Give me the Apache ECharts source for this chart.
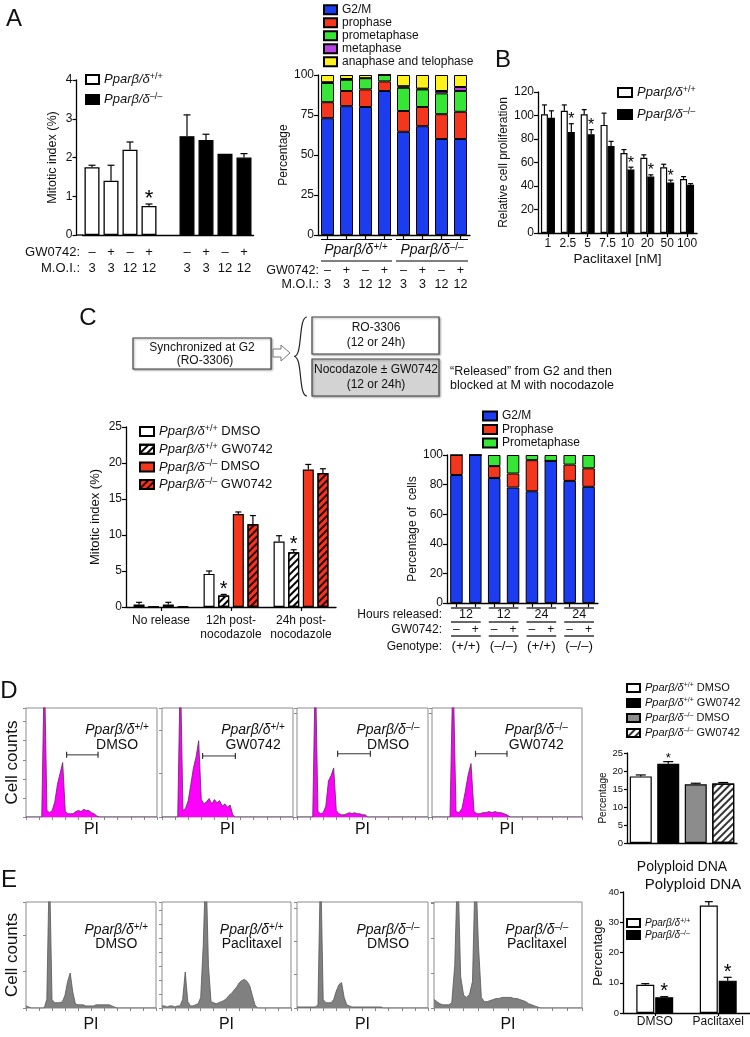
<!DOCTYPE html>
<html>
<head>
<meta charset="utf-8">
<script src="https://cdn.jsdelivr.net/npm/echarts@6/dist/echarts.min.js"></script>
<style>
html,body{margin:0;padding:0;background:#fff;}
#chart{width:750px;height:1037px;}
</style>
</head>
<body>
<div id="chart"></div>
<script>
// ================= DATA =================
// Panel A (left): mitotic index (%)
const aGW    = ['–','+','–','+','','–','+','–','+'];
const aMOI   = ['3','3','12','12','','3','3','12','12'];
const aWT    = [1.75, 1.4, 2.2, 0.75, '-', '-', '-', '-', '-'];
const aWTerr = [0.05, 0.4, 0.2, 0.05, 0, 0, 0, 0, 0];
const aWTsig = [0, 0, 0, 1, 0, 0, 0, 0, 0];
const aKO    = ['-', '-', '-', '-', '-', 2.55, 2.45, 2.1, 2.0];
const aKOerr = [0, 0, 0, 0, 0, 0.55, 0.15, 0, 0.1];

// Panel A (right): distribution of mitotic phases (%)
const arGW   = ['–','+','–','+','–','+','–','+'];
const arMOI  = ['3','3','12','12','3','3','12','12'];
const arGroups = ['+/+', '–/–'];
const phaseNames = ['G2/M','prophase','prometaphase','metaphase','anaphase and telophase'];
const arG2M     = [73, 80.5, 80, 90, 64.5, 68, 60, 60];
const arPro     = [10, 9.5, 11, 6, 13, 12, 15.5, 17];
const arPrometa = [12, 7, 7, 4, 14.5, 11, 13, 13];
const arMeta    = [0.5, 0.5, 0, 0, 1, 0.5, 1.5, 2.5];
const arAna     = [4.5, 2.5, 2, 0, 7, 8.5, 10, 7.5];

// Panel B: relative cell proliferation vs paclitaxel
const bDose   = ['1','2.5','5','7.5','10','20','50','100'];
const bWT     = [101, 104, 101, 92, 68, 64, 56, 46];
const bWTerr  = [8, 5, 4, 10, 3, 2.5, 2.5, 2];
const bKO     = [98, 86, 84, 74, 54, 48, 43, 41];
const bKOerr  = [6, 7, 4, 4, 2, 1.5, 2, 1];
const bKOsig  = [0, 1, 1, 0, 1, 1, 1, 0];

// Panel C (left): mitotic index (%)
const cCats    = ['No release', '12h post-\nnocodazole', '24h post-\nnocodazole'];
const cWtD     = [0.35, 4.6, 9.1];   const cWtDerr = [0.3, 0.4, 0.8];
const cWtG     = [0.05, 1.6, 7.6];   const cWtGerr = [0, 0.15, 0.35]; const cWtGsig = [0, 1, 1];
const cKoD     = [0.35, 12.9, 19.1]; const cKoDerr = [0.3, 0.3, 0.7];
const cKoG     = [0.05, 11.5, 18.6]; const cKoGerr = [0, 1.2, 0.6];

// Panel C (right): percentage of cells
const crGW     = ['–','+','–','+','–','+','–','+'];
const crHours  = ['12','12','24','24'];
const crGeno   = ['(+/+)','(–/–)','(+/+)','(–/–)'];
const crPhases = ['G2/M','Prophase','Prometaphase'];
const crG2M     = [86.5, 100, 84.5, 78, 75.5, 96, 82.5, 78.5];
const crPro     = [13.5, 0, 8, 9.5, 21, 0, 11, 12.5];
const crPrometa = [0, 0, 7.5, 12.5, 3.5, 4, 6.5, 9];

// Panel D: PI histograms (cell counts, % of panel height, bins every 2 PI units)
const histStep = 2;
const dHist1 = [0,0,0,0,0,0,0,140,6,4,6,14,30,40,50,5,3,3,3,5,6,5,7,6,6,4,3,1,0,0,0,0,0,0,0,0,0,0,0,0,0,0,0,0,0,0,0,0,0,0,0];
const dHist2 = [0,0,0,0,0,0,0,140,6,8,15,30,45,55,70,16,12,14,17,12,16,13,15,10,12,9,11,2,0,0,0,0,0,0,0,0,0,0,0,0,0,0,0,0,0,0,0,0,0,0,0];
const dHist3 = [0,0,0,0,0,0,0,140,5,3,4,10,33,38,45,6,3,2,2,3,4,3,4,3,3,2,2,0,0,0,0,0,0,0,0,0,0,0,0,0,0,0,0,0,0,0,0,0,0,0,0];
const dHist4 = [0,0,0,0,0,0,0,140,5,4,8,22,38,49,5,3,3,4,4,5,4,5,4,4,3,2,0,0,0,0,0,0,0,0,0,0,0,0,0,0,0,0,0,0,0,0,0,0,0,0,0];
const dGateX1 = [31, 31, 31, 29];
const dGateX2 = [55, 56, 56, 50];
const dGateY  = [57, 56, 58, 58];
const dLabels = [['+/+','DMSO'], ['+/+','GW0742'], ['–/–','DMSO'], ['–/–','GW0742']];

// Panel D (right): polyploid DNA (%)
const dBarNames = ['+/+ DMSO', '+/+ GW0742', '–/– DMSO', '–/– GW0742'];
const dVals = [18.5, 22, 16.3, 16.5];
const dErr  = [0.4, 0.6, 0.3, 0.3];
const dSig  = [0, 1, 0, 0];

// Panel E: PI histograms
const eHist1 = [2,1,0,0,0,0,0,0,8,140,8,5,5,5,6,12,25,33,15,4,3,3,3,2,2,2,2,3,3,3,3,3,3,2,1,0,0,0,0,0,0,0,0,0,0,0,0,0,0,0,0];
const eHist2 = [2,2,1,2,2,1,2,2,8,34,6,2,2,3,4,10,60,140,40,6,5,4,5,6,7,9,12,14,17,20,24,26,27,25,21,12,3,0,0,0,0,0,0,0,0,0,0,0,0,0,0];
const eHist3 = [1,1,1,1,1,1,1,1,3,140,8,5,5,5,8,16,22,24,10,3,2,1,1,1,1,1,1,1,1,1,1,1,1,0,0,0,0,0,0,0,0,0,0,0,0,0,0,0,0,0,0];
const eHist4 = [8,6,4,3,3,3,5,40,140,30,12,10,13,25,140,60,10,6,6,7,8,9,9,10,10,10,10,9,9,8,7,6,4,3,2,1,0,0,0,0,0,0,0,0,0,0,0,0,0,0,0];
const eLabels = [['+/+','DMSO'], ['+/+','Paclitaxel'], ['–/–','DMSO'], ['–/–','Paclitaxel']];

// Panel E (right): polyploid DNA (%)
const eCats   = ['DMSO', 'Paclitaxel'];
const eWT     = [9.3, 35.5];  const eWTerr = [0.4, 1.3];
const eKO     = [5.2, 10.7];  const eKOerr = [0.2, 1.1]; const eKOsig = [1, 1];

// ================= STYLE / LAYOUT =================
const FF = '"Liberation Sans", Arial, Helvetica, sans-serif';
const K = '#111';
const C_BLUE = '#1c3cf0', C_RED = '#f4361c', C_GREEN = '#35e635', C_PURPLE = '#b845e0', C_YELLOW = '#fff21c';
const phaseColors = [C_BLUE, C_RED, C_GREEN, C_PURPLE, C_YELLOW];
const hatch = (col) => ({symbol:'rect', symbolSize:1, dashArrayX:[1,0], dashArrayY:[1.3,2.4], rotation:-Math.PI/4, color:col});

const L = {
  aL:{left:82.5, top:80, width:171, height:155},
  aR:{left:318, top:75, width:152, height:160},
  b:{left:538, top:92, width:159, height:141},
  cL:{left:126, top:427, width:210, height:180},
  cR:{left:447, top:455, width:151, height:148},
  dH:[{left:26,top:708,width:131,height:109},{left:162,top:708,width:131,height:109},{left:297,top:708,width:131,height:109},{left:432,top:708,width:150,height:109}],
  dB:{left:627, top:753, width:110, height:90},
  eH:[{left:26,top:902,width:130,height:106},{left:162,top:902,width:129,height:106},{left:297,top:902,width:131,height:106},{left:434,top:902,width:148,height:106}],
  eB:{left:623, top:892, width:140, height:121}
};
const dTick = [17.5, 40, 95, 95];
const eTick = [34.5, 13.2, 31.5, 33];

function richSet(fs, lh){
  lh = lh || fs + 2;
  const s = Math.round(fs*0.68);
  return {
    i:{fontStyle:'italic', fontSize:fs, fontFamily:FF, color:K, lineHeight:lh},
    s:{fontSize:s, fontFamily:FF, color:K, lineHeight:s, verticalAlign:'top'},
    n:{fontSize:fs, fontFamily:FF, color:K, lineHeight:lh}
  };
}
function ppar(g, tail){ return '{i|Pparβ/δ}{s|' + g + '}' + (tail ? '{n| ' + tail + '}' : ''); }

const grids = [L.aL, L.aR, L.b, L.cL, L.cR, ...L.dH, L.dB, ...L.eH, L.eB].map((g, i) => {
  const hist = (i >= 5 && i <= 8) || (i >= 10 && i <= 13);
  return Object.assign({containLabel:false}, g, hist ? {show:true, borderColor:'#8c8c8c', borderWidth:1, backgroundColor:'rgba(255,255,255,0)'} : {show:false});
});

const axLine = {show:true, lineStyle:{color:'#000', width:1.3}};
const noLine = {show:false};
function tick(len, align){ return {show:true, inside:false, length:len, alignWithLabel:!!align, lineStyle:{color:'#000', width:1.2}}; }
function lab(fs, extra){ return Object.assign({fontSize:fs, fontFamily:FF, color:K, interval:0}, extra||{}); }

function yVal(gi, min, max, interval, name, nameGap, fs, nfs, extra){
  return Object.assign({type:'value', gridIndex:gi, position:'left', min, max, interval, axisLine:axLine, axisTick:tick(4), splitLine:{show:false},
    axisLabel:{fontSize:fs, fontFamily:FF, color:K, margin:4}, name, nameLocation:'middle', nameGap,
    nameTextStyle:{fontSize:nfs, fontFamily:FF, color:K}}, extra||{});
}
function yHist(gi, interval, name){
  return {type:'value', gridIndex:gi, position:'left', min:0, max:100, interval, axisLine:noLine,
    axisTick:{show:true, inside:false, length:3, lineStyle:{color:'#888'}}, axisLabel:{show:false}, splitLine:{show:false},
    name:name||'', nameLocation:'middle', nameGap:5, nameTextStyle:{fontSize:17, fontFamily:FF, color:K}};
}
function xHist(gi, gap){
  return {type:'value', gridIndex:gi, position:'bottom', min:0, max:100, interval:10, axisLine:noLine,
    axisTick:{show:true, inside:false, length:3, lineStyle:{color:'#888'}}, axisLabel:{show:false}, splitLine:{show:false},
    name:'PI', nameLocation:'middle', nameGap:gap, nameTextStyle:{fontSize:16, fontFamily:FF, color:K}};
}

const xAxes = [
  // 0 A left
  {type:'category', gridIndex:0, position:'bottom', data:aGW.map((_, i) => 'a' + i), axisLine:axLine, axisTick:{show:false},
   axisLabel:lab(13, {lineHeight:16, margin:9, formatter:(v, i) => aGW[i] + '\n' + aMOI[i]})},
  // 1 A right main
  {type:'category', gridIndex:1, position:'bottom', data:arGW.map((_, i) => 'r' + i), axisLine:axLine, axisTick:tick(4, true),
   axisLabel:lab(12.5, {lineHeight:14, margin:29, formatter:(v, i) => arGW[i] + '\n' + arMOI[i]})},
  // 2 A right genotype groups
  {type:'category', gridIndex:1, position:'bottom', offset:0, data:arGroups, axisLine:noLine, axisTick:{show:false},
   axisLabel:lab(14, {margin:7, formatter:(v) => ppar(v), rich:richSet(14)})},
  // 3 B
  {type:'category', gridIndex:2, position:'bottom', data:bDose, axisLine:axLine, axisTick:tick(4, true),
   axisLabel:lab(12, {margin:4, lineHeight:14}), name:'Paclitaxel [nM]', nameLocation:'middle', nameGap:13,
   nameTextStyle:{fontSize:13.5, fontFamily:FF, color:K}},
  // 4 C left
  {type:'category', gridIndex:3, position:'bottom', data:cCats, axisLine:axLine, axisTick:tick(4, true),
   axisLabel:lab(12, {lineHeight:14, margin:7})},
  // 5 C right main
  {type:'category', gridIndex:4, position:'bottom', data:crGW.map((_, i) => 'c' + i), axisLine:axLine, axisTick:tick(4, true),
   axisLabel:lab(12, {lineHeight:14, margin:20, formatter:(v, i) => crGW[i]})},
  // 6 C right hours
  {type:'category', gridIndex:4, position:'bottom', offset:0, data:crHours, axisLine:noLine, axisTick:{show:false},
   axisLabel:lab(12.5, {lineHeight:14, margin:5})},
  // 7 C right genotype
  {type:'category', gridIndex:4, position:'bottom', offset:0, data:crGeno, axisLine:noLine, axisTick:{show:false},
   axisLabel:lab(13.5, {lineHeight:14, margin:36})},
  // 8-11 D hist
  xHist(5, 5), xHist(6, 5), xHist(7, 5), xHist(8, 5),
  // 12 D bar
  {type:'category', gridIndex:9, position:'bottom', data:['Polyploid DNA'], axisLine:axLine, axisTick:{show:false},
   axisLabel:lab(14, {lineHeight:16, margin:16})},
  // 13-16 E hist
  xHist(10, 9), xHist(11, 9), xHist(12, 9), xHist(13, 9),
  // 17 E bar
  {type:'category', gridIndex:14, position:'bottom', data:eCats, axisLine:axLine, axisTick:tick(3, true),
   axisLabel:lab(12, {lineHeight:14, margin:2})}
];

const yAxes = [
  yVal(0, 0, 4, 1, 'Mitotic index (%)', 17, 12, 12.5, {offset:6}),
  yVal(1, 0, 100, 25, 'Percentage', 26, 12, 12),
  yVal(2, 0, 120, 20, 'Relative cell proliferation', 26, 12, 12),
  yVal(3, 0, 25, 5, 'Mitotic index (%)', 24, 12, 13),
  yVal(4, 0, 100, 20, 'Percentage of  cells', 24, 12, 12),
  yHist(5, dTick[0], 'Cell counts'), yHist(6, dTick[1]), yHist(7, dTick[2]), yHist(8, dTick[3]),
  yVal(9, 0, 25, 5, 'Percentage', 15, 9.5, 10, {axisTick:tick(3)}),
  yHist(10, eTick[0], 'Cell counts'), yHist(11, eTick[1]), yHist(12, eTick[2]), yHist(13, eTick[3]),
  yVal(14, 0, 40, 10, 'Percentage', 13, 9.5, 13, {axisTick:tick(3)})
];

// error bars + significance stars, drawn through the axes
function errBars(xi, yi, vals, errs, sigs, nSer, idx, bw, gap, cap, starFs){
  const data = [];
  vals.forEach((v, i) => { if (v !== '-' && v != null) data.push([i, v, errs[i] || 0, sigs ? sigs[i] : 0]); });
  const off = (idx - (nSer - 1) / 2) * (bw + gap);
  return {
    type:'custom', xAxisIndex:xi, yAxisIndex:yi, z:5, silent:true, clip:false,
    encode:{x:0, y:1}, data,
    renderItem(params, api){
      const c = api.value(0), v = api.value(1), e = api.value(2), s = api.value(3);
      const p0 = api.coord([c, v]), p1 = api.coord([c, v + e]);
      const x = p0[0] + off;
      const kids = [];
      if (e > 0) {
        kids.push({type:'line', shape:{x1:x, y1:p0[1], x2:x, y2:p1[1]}, style:{stroke:'#000', lineWidth:1.2}});
        kids.push({type:'line', shape:{x1:x - cap, y1:p1[1], x2:x + cap, y2:p1[1]}, style:{stroke:'#000', lineWidth:1.2}});
      }
      if (s) kids.push({type:'text', x:x, y:p1[1] + starFs * 0.25,
        style:{text:'*', fill:'#000', font:starFs + 'px ' + FF, align:'center', verticalAlign:'bottom'}});
      return {type:'group', children:kids};
    }
  };
}

const bord = (w) => ({borderColor:'#000', borderWidth:w});
const series = [];
// A left
series.push({name:'A:wt', type:'bar', xAxisIndex:0, yAxisIndex:0, data:aWT, barWidth:15, barGap:'-100%', itemStyle:Object.assign({color:'#fff'}, bord(1.3))});
series.push({name:'A:ko', type:'bar', xAxisIndex:0, yAxisIndex:0, data:aKO, barWidth:15, barGap:'-100%', itemStyle:Object.assign({color:'#000'}, bord(1.3))});
series.push(errBars(0, 0, aWT, aWTerr, aWTsig, 1, 0, 15, 0, 3.5, 22));
series.push(errBars(0, 0, aKO, aKOerr, null, 1, 0, 15, 0, 3.5, 22));
// A right stacked
[arG2M, arPro, arPrometa, arMeta, arAna].forEach((d, k) => series.push({name:'AR:' + phaseNames[k], type:'bar', stack:'ar',
  xAxisIndex:1, yAxisIndex:1, data:d, barWidth:13, itemStyle:Object.assign({color:phaseColors[k]}, bord(1))}));
// B
series.push({name:'B:wt', type:'bar', xAxisIndex:3, yAxisIndex:2, data:bWT, barWidth:7, barGap:'0%', itemStyle:Object.assign({color:'#fff'}, bord(1.2))});
series.push({name:'B:ko', type:'bar', xAxisIndex:3, yAxisIndex:2, data:bKO, barWidth:7, barGap:'0%', itemStyle:Object.assign({color:'#000'}, bord(1.2))});
series.push(errBars(3, 2, bWT, bWTerr, null, 2, 0, 7, 0, 2.5, 16));
series.push(errBars(3, 2, bKO, bKOerr, bKOsig, 2, 1, 7, 0, 2.5, 16));
// C left
const cSer = [
  {n:'C:wtD', d:cWtD, e:cWtDerr, s:null, st:{color:'#fff'}},
  {n:'C:wtG', d:cWtG, e:cWtGerr, s:cWtGsig, st:{color:'#fff', decal:hatch('#000')}},
  {n:'C:koD', d:cKoD, e:cKoDerr, s:null, st:{color:C_RED}},
  {n:'C:koG', d:cKoG, e:cKoGerr, s:null, st:{color:C_RED, decal:hatch('#300')}}
];
cSer.forEach((c, k) => {
  series.push({name:c.n, type:'bar', xAxisIndex:4, yAxisIndex:3, data:c.d, barWidth:11, barGap:'33%', itemStyle:Object.assign({}, c.st, bord(1.2))});
});
cSer.forEach((c, k) => series.push(errBars(4, 3, c.d, c.e, c.s, 4, k, 11, 3.6, 3, 20)));
// C right stacked
[crG2M, crPro, crPrometa].forEach((d, k) => series.push({name:'CR:' + crPhases[k], type:'bar', stack:'cr',
  xAxisIndex:5, yAxisIndex:4, data:d, barWidth:12.5, itemStyle:Object.assign({color:phaseColors[k]}, bord(1))}));
// D histograms
[dHist1, dHist2, dHist3, dHist4].forEach((h, k) => {
  series.push({type:'line', xAxisIndex:8 + k, yAxisIndex:5 + k, data:h.map((v, i) => [i * histStep, v]), symbol:'none', silent:true, clip:true,
    lineStyle:{color:'#5a2a5a', width:0.8}, areaStyle:{color:'#ff00ff', opacity:1}});
  series.push({type:'line', xAxisIndex:8 + k, yAxisIndex:5 + k, data:[[dGateX1[k], dGateY[k]], [dGateX2[k], dGateY[k]]], symbol:'rect', symbolSize:[1.2, 6],
    silent:true, lineStyle:{color:'#333', width:1}, itemStyle:{color:'#333'}});
});
// D bar
const dStyles = [{color:'#fff'}, {color:'#000'}, {color:'#8c8c8c'}, {color:'#fff', decal:hatch('#333')}];
dVals.forEach((v, k) => {
  series.push({name:'D:' + k, type:'bar', xAxisIndex:12, yAxisIndex:9, data:[v], barWidth:22, barGap:'25%', itemStyle:Object.assign({}, dStyles[k], bord(1.2))});
});
dVals.forEach((v, k) => series.push(errBars(12, 9, [v], [dErr[k]], [dSig[k]], 4, k, 22, 5.5, 5, 13)));
// E histograms
[eHist1, eHist2, eHist3, eHist4].forEach((h, k) => {
  series.push({type:'line', xAxisIndex:13 + k, yAxisIndex:10 + k, data:h.map((v, i) => [i * histStep, v]), symbol:'none', silent:true, clip:true,
    lineStyle:{color:'#555', width:0.8}, areaStyle:{color:'#808080', opacity:1}});
});
// E bar
series.push({name:'E:wt', type:'bar', xAxisIndex:17, yAxisIndex:14, data:eWT, barWidth:18, barGap:'5%', itemStyle:Object.assign({color:'#fff'}, bord(1.2))});
series.push({name:'E:ko', type:'bar', xAxisIndex:17, yAxisIndex:14, data:eKO, barWidth:18, barGap:'5%', itemStyle:Object.assign({color:'#000'}, bord(1.2))});
series.push(errBars(17, 14, eWT, eWTerr, null, 2, 0, 18, 0.9, 4, 20));
series.push(errBars(17, 14, eKO, eKOerr, eKOsig, 2, 1, 18, 0.9, 4, 20));

// legends
function mkLegend(names, labels, left, top, fs, lh, gap, iw, ih){
  return {show:true, data:names, left, top, orient:'vertical', itemGap:gap, itemWidth:iw, itemHeight:ih, icon:'rect',
    selectedMode:false, padding:0,
    textStyle:{fontSize:fs, fontFamily:FF, color:K, lineHeight:lh, rich:richSet(fs, lh)},
    formatter:(n) => labels[names.indexOf(n)]};
}
const legends = [
  mkLegend(['A:wt','A:ko'], [ppar('+/+'), ppar('–/–')], 85, 72, 13, 15, 5, 13, 9),
  mkLegend(phaseNames.map(n => 'AR:' + n), phaseNames, 323, 3.5, 12, 12.5, 0.5, 13, 9),
  mkLegend(['B:wt','B:ko'], [ppar('+/+'), ppar('–/–')], 617, 85, 13, 15, 7, 14, 9),
  mkLegend(['C:wtD','C:wtG','C:koD','C:koG'], [ppar('+/+','DMSO'), ppar('+/+','GW0742'), ppar('–/–','DMSO'), ppar('–/–','GW0742')], 139, 424, 13, 15, 2.7, 14, 9),
  mkLegend(crPhases.map(n => 'CR:' + n), crPhases, 482, 409.5, 12, 13, 0.5, 14, 9),
  mkLegend(['D:0','D:1','D:2','D:3'], dBarNames.map(n => { const p = n.split(' '); return ppar(p[0], p[1]); }), 626, 681.5, 11, 13, 2, 13, 8),
  mkLegend(['E:wt','E:ko'], [ppar('+/+'), ppar('–/–')], 626, 917.5, 10, 11, 1, 13, 8)
];

// graphic text / decorations
const gfx = [];
function txt(x, y, text, fs, align, extra){
  gfx.push({type:'text', x, y, silent:true, style:Object.assign({text, fill:K, font:fs + 'px ' + FF, align:align || 'left', verticalAlign:'middle'}, extra || {})});
}
function rtxt(x, y, text, fs, align){
  gfx.push({type:'text', x, y, silent:true, style:{text, rich:richSet(fs), fill:K, font:fs + 'px ' + FF, align:align || 'center', verticalAlign:'middle'}});
}
function hline(x1, x2, y, w, col){
  gfx.push({type:'line', silent:true, shape:{x1, y1:y, x2, y2:y}, style:{stroke:col || '#000', lineWidth:w || 1.2}});
}
// panel letters
txt(14, 19, 'A', 24, 'center');
txt(503, 60, 'B', 24, 'center');
txt(88, 318, 'C', 24, 'center');
txt(9, 691, 'D', 24, 'center');
txt(9, 880, 'E', 24, 'center');
// A left: baseline joins the offset y axis
hline(L.aL.left - 6.5, L.aL.left + 1, L.aL.top + L.aL.height, 1.3);
// row headers
txt(80, 252, 'GW0742:', 13, 'right');
txt(80, 268, 'M.O.I.:', 13, 'right');
txt(319, 271, 'GW0742:', 12.5, 'right');
txt(319, 285, 'M.O.I.:', 12.5, 'right');
txt(442, 615, 'Hours released:', 12, 'right');
txt(442, 630, 'GW0742:', 12, 'right');
txt(442, 647, 'Genotype:', 12, 'right');
// group separators (A right)
[239.5, 261].forEach(y => {
  const g = L.aR, half = g.width / 2;
  hline(g.left + 3, g.left + half - 2, y);
  hline(g.left + half + 2, g.left + g.width - 2, y);
});
// group separators (C right)
[608, 622, 636].forEach(y => {
  const g = L.cR, q = g.width / 4;
  for (let k = 0; k < 4; k++) hline(g.left + k * q + 4, g.left + (k + 1) * q - 4, y);
});
// C diagram
const boxStyle = {stroke:'#444', lineWidth:1.2, shadowBlur:2, shadowColor:'rgba(0,0,0,0.35)', shadowOffsetX:1, shadowOffsetY:1};
gfx.push({type:'rect', silent:true, shape:{x:133, y:338, width:138, height:31}, style:Object.assign({fill:'#fff'}, boxStyle)});
txt(202, 348, 'Synchronized at G2', 12, 'center');
txt(205, 361, '(RO-3306)', 12, 'center');
gfx.push({type:'polygon', silent:true, shape:{points:[[273,349],[281,349],[281,345],[290,353],[281,361],[281,357],[273,357]]}, style:{fill:'#fff', stroke:'#777', lineWidth:1}});
gfx.push({type:'bezierCurve', silent:true, shape:{x1:307, y1:317, cpx1:298, cpy1:317, cpx2:303, cpy2:356.5, x2:294, y2:356.5}, style:{stroke:'#222', lineWidth:1.2, fill:null}});
gfx.push({type:'bezierCurve', silent:true, shape:{x1:294, y1:356.5, cpx1:303, cpy1:356.5, cpx2:298, cpy2:396, x2:307, y2:396}, style:{stroke:'#222', lineWidth:1.2, fill:null}});
gfx.push({type:'rect', silent:true, shape:{x:312, y:317, width:127, height:37}, style:Object.assign({fill:'#fff'}, boxStyle)});
txt(376, 328, 'RO-3306', 12, 'center');
txt(376, 343, '(12 or 24h)', 12, 'center');
gfx.push({type:'rect', silent:true, shape:{x:312, y:359, width:127, height:37}, style:Object.assign({fill:'#d3d3d3'}, boxStyle)});
txt(376, 370, 'Nocodazole ± GW0742', 12, 'center');
txt(376, 385, '(12 or 24h)', 12, 'center');
txt(450, 372, '“Released” from G2 and then', 12.5, 'left');
txt(450, 386, 'blocked at M with nocodazole', 12.5, 'left');
// histogram annotations
L.dH.forEach((g, k) => {
  const cx = g.left + g.width * 0.695;
  rtxt(cx, g.top + 22, ppar(dLabels[k][0]), 14, 'center');
  txt(cx, g.top + 37, dLabels[k][1], 14, 'center');
});
L.eH.forEach((g, k) => {
  const cx = g.left + g.width * 0.695;
  rtxt(cx, g.top + 28, ppar(eLabels[k][0]), 14, 'center');
  txt(cx, g.top + 42, eLabels[k][1], 14, 'center');
});
txt(693, 885, 'Polyploid DNA', 15, 'center');

const option = {
  backgroundColor:'#fff',
  animation:false,
  textStyle:{fontFamily:FF},
  grid:grids,
  xAxis:xAxes,
  yAxis:yAxes,
  legend:legends,
  series:series,
  graphic:{elements:gfx}
};
const chart = echarts.init(document.getElementById('chart'), null, {renderer:'canvas', width:750, height:1037});
chart.setOption(option);
</script>
</body>
</html>
